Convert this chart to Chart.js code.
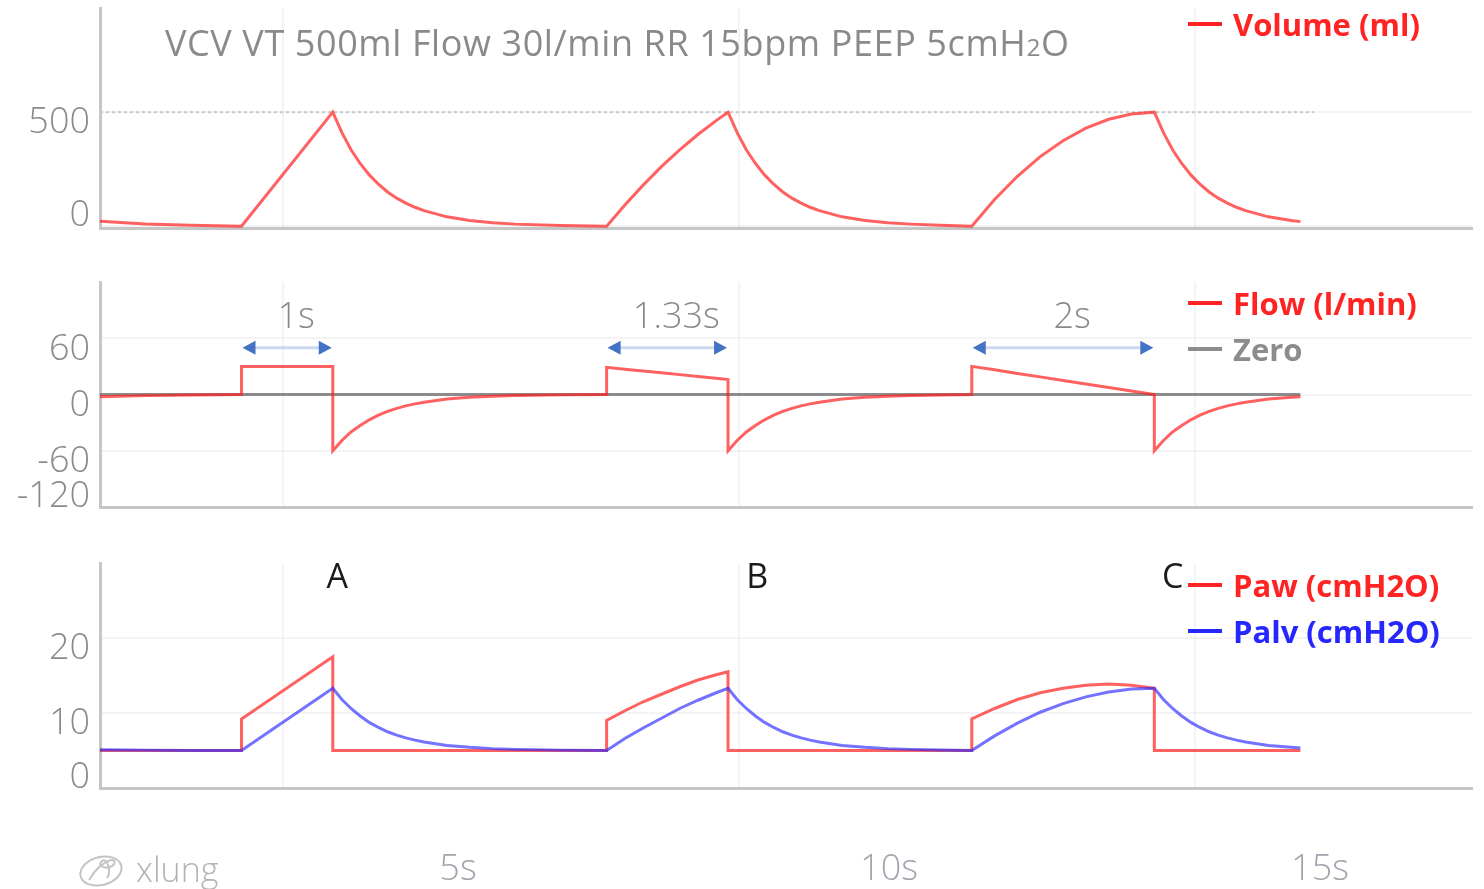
<!DOCTYPE html>
<html>
<head>
<meta charset="utf-8">
<title>VCV waveforms</title>
<script src="https://cdn.jsdelivr.net/npm/chart.js@4"></script>
<style>
  body { margin: 0; background: #fff; font-family: 'Open Sans', sans-serif; }
  #page { position: relative; width: 1484px; height: 889px; overflow: hidden; }
  .panel { position: absolute; left: 0; width: 1484px; }
  .legend { position: absolute; left: 1188px; }
  .legend-row { display: flex; align-items: center; height: 46px; font-size: 31px; font-weight: 700; white-space: nowrap; }
  .legend-row .swatch { display: inline-block; width: 34px; height: 4px; margin-right: 11px; }
  #title { position: absolute; left: 165px; top: 22px; font-size: 36px; letter-spacing: 0.6px; line-height: 42px; color: #8a8a8a; white-space: nowrap; }
  #title .sub { font-size: 0.68em; }
  #brand { position: absolute; left: 78px; top: 846px; display: flex; align-items: center; color: #b4b4b4; font-size: 34px; font-weight: 300; }
  #brand span { margin-left: 12px; }
</style>
</head>
<body>
<div id="page">
  <div class="panel" style="top:0;height:240px"><canvas id="volumeChart"></canvas></div>
  <div class="panel" style="top:270px;height:250px"><canvas id="flowChart"></canvas></div>
  <div class="panel" style="top:540px;height:349px"><canvas id="pressureChart"></canvas></div>

  <div id="title">VCV VT 500ml Flow 30l/min RR 15bpm PEEP 5cmH<span class="sub">2</span>O</div>
  <div class="legend" id="volumeLegend" style="top:1px"></div>
  <div class="legend" id="flowLegend" style="top:280px"></div>
  <div class="legend" id="pressureLegend" style="top:562px"></div>

  <div id="brand">
    <svg width="46" height="40" viewBox="0 0 46 40">
      <ellipse cx="23" cy="22" rx="21" ry="14" transform="rotate(-15 23 22)" fill="none" stroke="#c4c4c4" stroke-width="2"/>
      <path d="M11 31 C17 21 25 13 33 11 C38 10 38 16 32 18 C26 20 19 16 24 12 C29 8 34 22 29 29" fill="none" stroke="#c4c4c4" stroke-width="2"/>
    </svg>
    <span>xlung</span>
  </div>
</div>

<script>
// sample times in seconds; a repeated time marks a step between phases
const time = [
  3.0, 3.5, 4.0, 4.55,
  4.55, 5.55,
  5.55, 5.65, 5.75, 5.85, 5.95, 6.05, 6.15, 6.25, 6.35, 6.45, 6.55, 6.8, 7.05, 7.3, 7.55, 8.05, 8.55,
  8.55, 8.75, 8.95, 9.15, 9.35, 9.55, 9.75, 9.88,
  9.88, 9.98, 10.08, 10.18, 10.28, 10.38, 10.48, 10.58, 10.68, 10.78, 10.88, 11.13, 11.38, 11.63, 11.88, 12.21, 12.55,
  12.55, 12.8, 13.05, 13.3, 13.55, 13.8, 14.05, 14.3, 14.55,
  14.55, 14.65, 14.75, 14.85, 14.95, 15.05, 15.15, 15.25, 15.35, 15.45, 15.55, 15.8, 16.05, 16.15
];

// volume (ml)
const volume = [
  22, 10, 4, 0,
  0, 500,
  500, 410, 335, 275, 225, 184, 150, 123, 101, 83, 68, 41, 25, 15, 9, 3, 0,
  0, 93, 180, 261, 335, 402, 463, 500,
  500, 410, 335, 275, 225, 184, 150, 123, 101, 83, 68, 41, 25, 15, 9, 4, 0,
  0, 117, 219, 305, 375, 430, 469, 492, 500,
  500, 410, 335, 275, 225, 184, 150, 123, 101, 83, 68, 41, 25, 20
];

// flow (l/min)
const flow = [
  -2.5, -1.2, -0.5, 0,
  30, 30,
  -60, -49, -40, -33, -27, -22, -18, -14.8, -12.1, -10, -8.2, -4.9, -3, -1.8, -1.1, -0.4, 0,
  29, 27, 25.1, 23.1, 21.2, 19.2, 17.3, 16,
  -60, -49, -40, -33, -27, -22, -18, -14.8, -12.1, -10, -8.2, -4.9, -3, -1.8, -1.1, -0.5, 0,
  30, 26.3, 22.5, 18.8, 15, 11.3, 7.5, 3.8, 0,
  -60, -49, -40, -33, -27, -22, -18, -14.8, -12.1, -10, -8.2, -4.9, -3, -2.4
];

// airway pressure (cmH2O)
const paw = [
  5, 5, 5, 5,
  9.2, 17.5,
  5, 5, 5, 5, 5, 5, 5, 5, 5, 5, 5, 5, 5, 5, 5, 5, 5,
  9.0, 10.3, 11.5, 12.5, 13.5, 14.4, 15.1, 15.5,
  5, 5, 5, 5, 5, 5, 5, 5, 5, 5, 5, 5, 5, 5, 5, 5, 5,
  9.2, 10.6, 11.8, 12.7, 13.3, 13.7, 13.85, 13.7, 13.3,
  5, 5, 5, 5, 5, 5, 5, 5, 5, 5, 5, 5, 5, 5
];

// alveolar pressure (cmH2O)
const palv = [
  5.1, 5.05, 5.0, 5.0,
  5.0, 13.3,
  13.3, 11.8, 10.6, 9.6, 8.75, 8.07, 7.5, 7.05, 6.68, 6.38, 6.13, 5.68, 5.42, 5.25, 5.15, 5.05, 5.0,
  5.0, 6.6, 8.0, 9.3, 10.6, 11.7, 12.7, 13.3,
  13.3, 11.8, 10.6, 9.6, 8.75, 8.07, 7.5, 7.05, 6.68, 6.38, 6.13, 5.68, 5.42, 5.25, 5.15, 5.07, 5.0,
  5.0, 6.95, 8.65, 10.1, 11.25, 12.15, 12.8, 13.2, 13.3,
  13.3, 11.8, 10.6, 9.6, 8.75, 8.07, 7.5, 7.05, 6.68, 6.38, 6.13, 5.68, 5.42, 5.33
];

const tidalVolume = 500;
const vtSpan = [3.0, 16.3];

// inspiratory times of the three breaths
const inspStart = [4.55, 8.55, 12.55];
const inspEnd = [5.55, 9.88, 14.55];
const inspText = ['1s', '1.33s', '2s'];
const arrowFlow = 50;
const arrowTextFlow = 82;

const breathText = ['A', 'B', 'C'];
const breathTime = [5.6, 10.2, 14.75];
const breathTextPressure = 28;

const gridTimes = [5, 10, 15];
const secondTicks = [5, 10, 15];
const volumeTicks = [0, 500];
const flowTicks = [-120, -60, 0, 60];
const pressureTicks = [0, 10, 20];

const RED = 'rgba(255, 30, 30, 0.7)';
const BLUE = 'rgba(40, 40, 255, 0.65)';
const AXIS_GREY = '#c6c6c6';
const GRID = 'rgba(0, 0, 0, 0.045)';
const TICK_FONT = { family: "'Open Sans', sans-serif", size: 36, weight: 300 };

Chart.defaults.animation = false;
Chart.defaults.events = [];
Chart.defaults.plugins.tooltip.enabled = false;

const pts = arr => time.map((t, i) => ({ x: t, y: arr[i] }));

// labels may hang over the panel edges, so scales ask for no extra room
function noEdgePadding(s) {
  s.paddingTop = 0;
  s.paddingBottom = 0;
  s.paddingLeft = 0;
  s.paddingRight = 0;
}

function timeAxis() {
  return {
    type: 'linear', position: 'bottom', weight: 0, min: 3, max: 18.03,
    afterBuildTicks: s => { s.ticks = gridTimes.map(v => ({ value: v })); },
    afterFit: s => { s.height = 0; noEdgePadding(s); },
    ticks: { display: false },
    grid: { color: GRID, lineWidth: 2, drawTicks: false },
    border: { display: true, color: AXIS_GREY, width: 3 }
  };
}

function valueAxis(min, max, ticks) {
  return {
    type: 'linear', min: min, max: max,
    afterBuildTicks: s => { s.ticks = ticks.map(v => ({ value: v })); },
    afterFit: s => { s.width = 100; noEdgePadding(s); },
    ticks: {
      autoSkip: false, font: TICK_FONT, color: '#8a8a8a', padding: 10, labelOffset: 11,
      // the lowest label is lifted so it sits inside its panel
      callback: (v, i) => i === 0 ? [String(v), ''] : String(v)
    },
    grid: { color: GRID, lineWidth: 2, drawTicks: false },
    border: { display: true, color: AXIS_GREY, width: 3 }
  };
}

function line(label, data, color, textColor, extra) {
  return Object.assign({
    label: label, data: data, borderColor: color, textColor: textColor,
    borderWidth: 3, pointRadius: 0, tension: 0, fill: false
  }, extra || {});
}

// legend rows written into a div next to each panel
const htmlLegend = {
  id: 'htmlLegend',
  afterUpdate(chart, args, opts) {
    const box = document.getElementById(opts.containerID);
    box.innerHTML = '';
    chart.legend.legendItems
      .filter(item => !chart.data.datasets[item.datasetIndex].noLegend)
      .sort((a, b) => a.datasetIndex - b.datasetIndex)
      .forEach(item => {
        const ds = chart.data.datasets[item.datasetIndex];
        const row = document.createElement('div');
        row.className = 'legend-row';
        const swatch = document.createElement('span');
        swatch.className = 'swatch';
        swatch.style.background = ds.textColor;
        const text = document.createElement('span');
        text.textContent = item.text;
        text.style.color = ds.textColor;
        row.appendChild(swatch);
        row.appendChild(text);
        box.appendChild(row);
      });
  }
};

// double arrows over each inspiration with its duration
const inspArrows = {
  id: 'inspArrows',
  afterDatasetsDraw(chart) {
    const { ctx, scales: { x, y } } = chart;
    ctx.save();
    inspStart.forEach((t0, i) => {
      const x1 = x.getPixelForValue(t0);
      const x2 = x.getPixelForValue(inspEnd[i]);
      const ya = y.getPixelForValue(arrowFlow);
      ctx.strokeStyle = 'rgba(190, 206, 236, 0.8)';
      ctx.lineWidth = 3;
      ctx.beginPath();
      ctx.moveTo(x1 + 10, ya);
      ctx.lineTo(x2 - 10, ya);
      ctx.stroke();
      ctx.fillStyle = '#4472c4';
      ctx.beginPath();
      ctx.moveTo(x1 + 1, ya);
      ctx.lineTo(x1 + 14, ya - 7);
      ctx.lineTo(x1 + 14, ya + 7);
      ctx.closePath();
      ctx.fill();
      ctx.beginPath();
      ctx.moveTo(x2 - 1, ya);
      ctx.lineTo(x2 - 14, ya - 7);
      ctx.lineTo(x2 - 14, ya + 7);
      ctx.closePath();
      ctx.fill();
      ctx.fillStyle = '#8a8a8a';
      ctx.font = "300 36px 'Open Sans', sans-serif";
      ctx.textAlign = 'center';
      ctx.textBaseline = 'middle';
      ctx.fillText(inspText[i], (x1 + x2) / 2 + 9, y.getPixelForValue(arrowTextFlow));
    });
    ctx.restore();
  }
};

// breath letters above the pressure curves
const breathLetters = {
  id: 'breathLetters',
  afterDatasetsDraw(chart) {
    const { ctx, scales: { x, y } } = chart;
    ctx.save();
    ctx.fillStyle = '#1a1a1a';
    ctx.font = "34px 'Open Sans', sans-serif";
    ctx.textAlign = 'center';
    ctx.textBaseline = 'middle';
    breathText.forEach((s, i) => {
      ctx.fillText(s, x.getPixelForValue(breathTime[i]), y.getPixelForValue(breathTextPressure));
    });
    ctx.restore();
  }
};

new Chart(document.getElementById('volumeChart'), {
  type: 'line',
  data: {
    datasets: [
      line('Volume (ml)', pts(volume), RED, '#ff2424'),
      line('VT', vtSpan.map(t => ({ x: t, y: tidalVolume })), '#c8c8c8', '#c8c8c8',
        { borderWidth: 2, borderDash: [3, 3], noLegend: true, order: 2 })
    ]
  },
  options: {
    responsive: true, maintainAspectRatio: false,
    layout: { padding: { top: 8, bottom: 12, left: 0, right: 12 } },
    scales: { x: timeAxis(), y: valueAxis(-8, 957, volumeTicks) },
    plugins: { legend: { display: false }, htmlLegend: { containerID: 'volumeLegend' } }
  },
  plugins: [htmlLegend]
});

new Chart(document.getElementById('flowChart'), {
  type: 'line',
  data: {
    datasets: [
      line('Flow (l/min)', pts(flow), RED, '#ff2424'),
      line('Zero', [{ x: time[0], y: 0 }, { x: time[time.length - 1], y: 0 }],
        'rgba(120, 120, 120, 0.85)', '#8c8c8c')
    ]
  },
  options: {
    responsive: true, maintainAspectRatio: false,
    layout: { padding: { top: 12, bottom: 13, left: 0, right: 12 } },
    scales: { x: timeAxis(), y: valueAxis(-120, 120, flowTicks) },
    plugins: { legend: { display: false }, htmlLegend: { containerID: 'flowLegend' } }
  },
  plugins: [htmlLegend, inspArrows]
});

new Chart(document.getElementById('pressureChart'), {
  type: 'line',
  data: {
    datasets: [
      line('Paw (cmH2O)', pts(paw), RED, '#ff2424', { order: 1 }),
      line('Palv (cmH2O)', pts(palv), BLUE, '#2626ff', { order: 0 })
    ]
  },
  options: {
    responsive: true, maintainAspectRatio: false,
    layout: { padding: { top: 23, bottom: 0, left: 0, right: 12 } },
    scales: {
      x: timeAxis(),
      secs: {
        type: 'linear', position: 'bottom', weight: 1, min: 0.847, max: 16.763,
        afterBuildTicks: s => { s.ticks = secondTicks.map(v => ({ value: v })); },
        afterFit: s => { s.height = 101; noEdgePadding(s); },
        ticks: {
          autoSkip: false, maxRotation: 0, padding: 60, font: TICK_FONT, color: '#a3a3ad',
          callback: v => v + 's'
        },
        grid: { display: false, drawTicks: false },
        border: { display: false }
      },
      y: valueAxis(0, 30, pressureTicks)
    },
    plugins: { legend: { display: false }, htmlLegend: { containerID: 'pressureLegend' } }
  },
  plugins: [htmlLegend, breathLetters]
});
</script>
</body>
</html>
